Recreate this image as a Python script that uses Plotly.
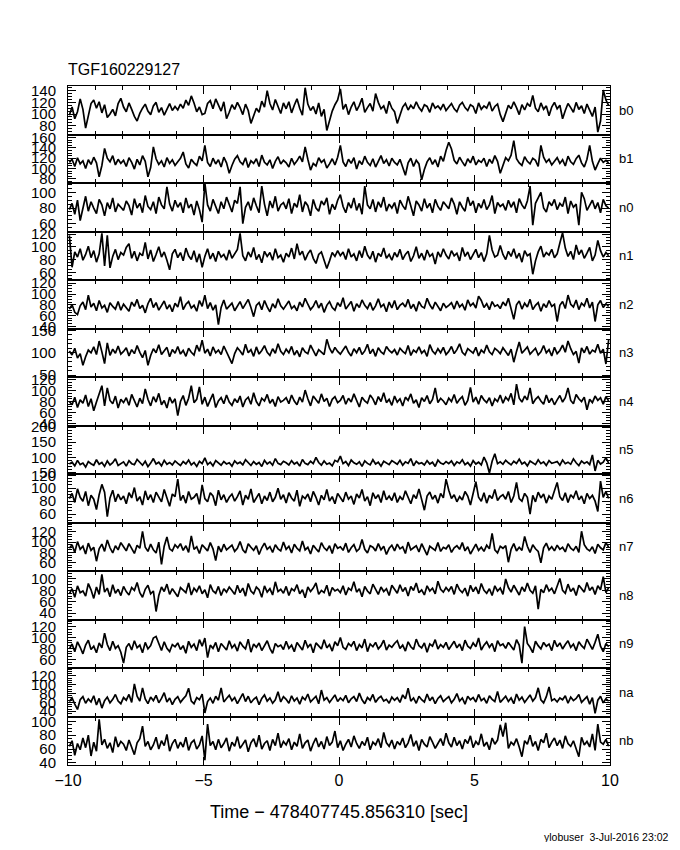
import numpy as np
import plotly.graph_objects as go

TITLE = "TGF160229127"
X_TITLE = "Time \u2212 478407745.856310 [sec]"
FOOTER = "ylobuser  3-Jul-2016 23:02"
DETECTORS = ["b0", "b1", "n0", "n1", "n2", "n3", "n4", "n5", "n6", "n7", "n8", "n9", "na", "nb"]
T_START, T_STOP = -10.0, 10.0
X_TICKS = [-10, -5, 0, 5, 10]

# counts per 0.1 s bin (10 rows x 20 bins = 2 s per row)
B0 = [98, 112, 92, 104, 126, 108, 76, 96, 118, 124, 110, 121, 102, 116, 94, 100, 108, 97, 118, 127,
      112, 104, 119, 108, 96, 88, 101, 110, 117, 105, 99, 114, 120, 103, 111, 98, 109, 118, 106, 113,
      107, 117, 110, 124, 115, 131, 119, 104, 112, 99, 101, 118, 123, 109, 126, 114, 105, 121, 92, 103,
      116, 108, 120, 111, 99, 117, 106, 84, 96, 110, 103, 122, 112, 140, 118, 107, 125, 113, 101, 119,
      109, 121, 102, 115, 126, 110, 98, 145, 117, 106, 113, 100, 119, 96, 108, 72, 91, 105, 116, 124,
      143, 108, 117, 99, 112, 121, 106, 115, 127, 103, 111, 118, 105, 135, 120, 109, 114, 101, 122, 110,
      104, 84, 98, 112, 118, 107, 115, 109, 121, 111, 105, 116, 113, 103, 119, 110, 114, 108, 117, 106,
      112, 118, 109, 104, 115, 120, 111, 106, 116, 113, 101, 119, 108, 114, 110, 121, 105, 113, 117, 99,
      87, 102, 115, 109, 121, 111, 99, 116, 107, 118, 113, 132, 110, 104, 119, 108, 114, 97, 112, 120,
      109, 115, 92, 106, 118, 111, 103, 120, 108, 114, 101, 117, 107, 96, 112, 69, 88, 141, 124, 115]
B1 = [112, 118, 104, 121, 109, 115, 100, 117, 108, 122, 111, 84, 106, 139, 120, 113, 125, 107, 118, 110,
      116, 104, 121, 112, 99, 118, 107, 125, 114, 84, 102, 142, 119, 108, 115, 103, 121, 110, 117, 106,
      113, 120, 132, 109, 101, 118, 111, 106, 124, 115, 145, 112, 104, 120, 109, 117, 103, 122, 111, 91,
      106, 118, 125, 113, 108, 121, 102, 115, 110, 119, 104, 126, 112, 107, 117, 100, 114, 123, 109, 116,
      111, 103, 120, 108, 115, 124, 113, 142, 118, 97, 110, 105, 121, 112, 117, 101, 109, 119, 107, 122,
      145, 113, 104, 118, 110, 121, 99, 115, 108, 124, 112, 106, 119, 103, 114, 125, 110, 117, 105, 120,
      112, 107, 118, 101, 87, 111, 120, 104, 116, 109, 78, 98, 113, 121, 108, 117, 103, 124, 114, 135,
      151, 138, 116, 109, 122, 113, 105, 119, 111, 124, 107, 116, 112, 120, 104, 118, 110, 125, 114, 91,
      108, 121, 115, 126, 154, 119, 111, 106, 123, 114, 109, 120, 116, 104, 145, 122, 112, 118, 107, 115,
      121, 110, 117, 105, 124, 113, 108, 119, 126, 111, 103, 118, 145, 114, 97, 109, 120, 112, 116, 111]
N0 = [78, 86, 72, 90, 64, 82, 95, 76, 88, 80, 73, 91, 84, 70, 87, 79, 93, 75, 85, 81,
      77, 89, 83, 71, 92, 80, 86, 74, 96, 82, 78, 88, 73, 94, 84, 79, 107, 85, 76, 90,
      81, 87, 74, 93, 80, 85, 71, 89, 78, 62, 112, 84, 76, 91, 82, 73, 88, 79, 94, 83,
      75, 90, 86, 107, 60, 81, 88, 77, 93, 83, 74, 108, 85, 70, 89, 80, 95, 76, 84, 87,
      79, 92, 73, 86, 81, 97, 75, 88, 83, 70, 91, 80, 76, 89, 84, 93, 72, 85, 78, 90,
      97, 82, 74, 87, 80, 93, 77, 86, 72, 108, 84, 79, 91, 75, 88, 81, 94, 76, 85, 80,
      87, 73, 90, 83, 78, 95, 81, 70, 89, 84, 76, 92, 80, 86, 74, 91, 82, 77, 88, 83,
      79, 93, 85, 72, 88, 81, 76, 94, 83, 89, 74, 86, 80, 91, 78, 84, 96, 73, 87, 82,
      85, 77, 90, 81, 88, 74, 92, 84, 79, 89, 108, 58, 86, 93, 100, 80, 75, 88, 83, 91,
      78, 86, 82, 94, 73, 89, 81, 85, 58, 100, 92, 77, 84, 90, 79, 87, 74, 91, 83, 80]
N1 = [118, 68, 92, 84, 97, 79, 88, 101, 83, 94, 76, 89, 121, 70, 118, 67, 85, 96, 80, 91,
      87, 99, 105, 82, 93, 78, 90, 86, 107, 81, 95, 77, 88, 100, 84, 92, 79, 64, 89, 96,
      83, 91, 78, 98, 86, 80, 94, 76, 89, 68, 85, 97, 81, 90, 77, 93, 84, 88, 79, 95,
      82, 89, 96, 121, 86, 78, 92, 84, 99, 80, 88, 75, 93, 85, 91, 79, 97, 83, 87, 76,
      90, 84, 98, 81, 105, 87, 93, 79, 89, 95, 82, 74, 88, 92, 80, 66, 78, 91, 85, 94,
      86, 92, 80, 97, 84, 89, 78, 94, 83, 101, 87, 81, 93, 76, 90, 85, 98, 82, 88, 79,
      91, 84, 96, 80, 88, 93, 77, 86, 100, 82, 90, 79, 95, 85, 89, 73, 92, 84, 97, 87,
      81, 94, 86, 90, 78, 99, 85, 92, 80, 88, 96, 83, 91, 77, 89, 118, 95, 84, 87, 102,
      88, 80, 93, 85, 97, 82, 90, 76, 94, 86, 89, 57, 78, 92, 101, 84, 91, 87, 96, 83,
      89, 106, 122, 98, 85, 93, 80, 103, 88, 95, 82, 90, 99, 78, 87, 110, 94, 84, 91, 86]
N2 = [72, 80, 66, 62, 78, 85, 71, 98, 76, 83, 69, 88, 74, 79, 66, 84, 77, 72, 86, 70,
      81, 74, 68, 85, 77, 90, 73, 79, 65, 82, 92, 75, 84, 70, 78, 87, 72, 80, 67, 83,
      76, 95, 71, 81, 86, 74, 79, 68, 88, 77, 98, 73, 84, 70, 80, 43, 75, 89, 72, 78,
      83, 69, 77, 86, 73, 81, 90, 75, 58, 79, 84, 71, 88, 76, 67, 82, 74, 91, 78, 72,
      80, 87, 73, 78, 69, 85, 76, 92, 81, 71, 77, 88, 74, 83, 66, 79, 86, 75, 70, 84,
      77, 93, 72, 80, 86, 68, 82, 75, 89, 79, 73, 84, 70, 78, 91, 76, 81, 67, 85, 74,
      88, 71, 79, 83, 76, 90, 73, 81, 68, 86, 77, 74, 92, 80, 72, 85, 78, 69, 83, 75,
      79, 84, 72, 87, 76, 81, 70, 89, 78, 83, 74, 96, 88, 75, 82, 71, 86, 77, 80, 73,
      85, 78, 92, 74, 53, 80, 87, 72, 83, 76, 90, 71, 79, 84, 68, 82, 75, 88, 77, 81,
      49, 79, 86, 73, 98, 81, 76, 89, 71, 83, 78, 92, 74, 85, 49, 80, 88, 75, 82, 77]
N3 = [104, 95, 110, 88, 98, 72, 91, 106, 100, 113, 96, 126, 102, 76, 122, 94, 108, 99, 115, 97,
      103, 111, 93, 107, 98, 116, 101, 89, 105, 72, 94, 109, 100, 118, 96, 104, 112, 91, 107, 99,
      114, 97, 105, 92, 110, 101, 95, 117, 103, 128, 99, 108, 93, 113, 100, 106, 96, 115, 102, 90,
      76, 98, 111, 104, 95, 119, 100, 107, 92, 113, 97, 105, 116, 101, 94, 109, 99, 120, 103, 96,
      108, 100, 114, 95, 105, 91, 111, 102, 98, 117, 104, 93, 107, 101, 96, 130, 110, 99, 112, 103,
      97, 106, 115, 101, 93, 109, 100, 112, 96, 104, 119, 98, 108, 92, 111, 102, 97, 114, 105, 100,
      107, 95, 110, 103, 98, 116, 94, 106, 101, 113, 99, 105, 92, 118, 104, 97, 109, 100, 112, 96,
      103, 114, 98, 107, 120, 101, 95, 109, 104, 99, 112, 93, 106, 100, 117, 102, 96, 110, 105, 98,
      111, 101, 94, 108, 79, 103, 124, 99, 106, 113, 97, 104, 110, 95, 102, 116, 100, 107, 93, 112,
      98, 105, 117, 101, 126, 109, 96, 103, 77, 111, 100, 114, 97, 106, 102, 119, 99, 108, 75, 129]
N4 = [80, 74, 88, 69, 83, 77, 92, 71, 85, 63, 79, 95, 109, 72, 105, 82, 76, 90, 68, 84,
      78, 87, 73, 93, 81, 70, 86, 76, 103, 84, 72, 89, 79, 95, 74, 82, 68, 88, 77, 85,
      54, 80, 91, 73, 86, 109, 78, 84, 107, 75, 88, 71, 83, 94, 69, 81, 87, 76, 92, 79,
      73, 85, 78, 90, 70, 83, 88, 75, 96, 80, 72, 86, 81, 93, 77, 84, 71, 89, 79, 82,
      87, 76, 92, 81, 74, 88, 79, 101, 85, 72, 90, 83, 77, 94, 80, 86, 71, 84, 89, 78,
      82, 91, 75, 86, 79, 94, 83, 70, 88, 81, 77, 92, 85, 74, 89, 80, 96, 78, 84, 73,
      90, 79, 85, 72, 88, 82, 94, 77, 83, 69, 87, 80, 91, 76, 84, 105, 78, 86, 81, 74,
      86, 80, 93, 77, 84, 89, 73, 82, 106, 79, 88, 75, 91, 83, 78, 87, 72, 85, 80, 92,
      77, 88, 82, 95, 74, 112, 86, 79, 90, 83, 105, 76, 84, 89, 81, 75, 92, 78, 86, 74,
      83, 91, 79, 87, 105, 82, 76, 93, 85, 80, 88, 65, 84, 78, 90, 82, 87, 75, 89, 81]
N5 = [78, 84, 72, 90, 76, 81, 68, 86, 79, 74, 92, 77, 83, 70, 88, 75, 82, 95, 73, 80,
      85, 71, 89, 79, 76, 93, 82, 74, 87, 69, 81, 96, 78, 84, 72, 90, 77, 83, 75, 88,
      80, 73, 86, 78, 91, 75, 83, 70, 87, 79, 98, 76, 84, 72, 89, 81, 74, 86, 78, 82,
      71, 88, 79, 84, 75, 92, 81, 73, 86, 77, 83, 70, 90, 78, 85, 74, 96, 80, 76, 87,
      82, 75, 89, 78, 84, 71, 93, 80, 76, 87, 79, 100, 83, 74, 88, 77, 81, 72, 90, 85,
      104, 79, 86, 73, 91, 82, 77, 85, 70, 88, 80, 75, 92, 78, 84, 71, 87, 81, 76, 89,
      83, 77, 90, 74, 85, 80, 96, 72, 87, 79, 82, 75, 89, 78, 84, 70, 91, 81, 77, 86,
      79, 88, 73, 85, 80, 92, 76, 83, 71, 89, 78, 84, 75, 101, 82, 48, 87, 112, 79, 85,
      77, 90, 82, 75, 87, 80, 94, 78, 84, 72, 88, 81, 76, 92, 79, 85, 73, 89, 80, 83,
      86, 74, 91, 79, 84, 77, 95, 82, 73, 88, 80, 85, 76, 108, 55, 90, 78, 84, 99, 81]
N6 = [84, 92, 78, 99, 86, 80, 95, 73, 89, 83, 67, 90, 106, 94, 56, 85, 97, 79, 91, 82,
      88, 76, 93, 85, 101, 80, 87, 74, 96, 82, 90, 78, 94, 86, 79, 98, 84, 72, 91, 87,
      114, 81, 89, 77, 95, 83, 86, 92, 75, 105, 84, 79, 93, 88, 73, 97, 82, 90, 78, 86,
      91, 80, 87, 96, 74, 89, 83, 99, 78, 85, 92, 76, 88, 81, 94, 79, 86, 100, 83, 90,
      77, 93, 85, 80, 97, 72, 88, 84, 91, 79, 95, 86, 74, 89, 82, 98, 80, 87, 76, 92,
      86, 79, 94, 83, 88, 75, 91, 85, 98, 80, 87, 73, 93, 84, 90, 78, 96, 82, 88, 81,
      93, 78, 87, 82, 96, 85, 76, 90, 84, 99, 80, 66, 88, 94, 83, 89, 77, 92, 85, 114,
      97, 84, 90, 79, 87, 82, 95, 88, 74, 91, 110, 86, 80, 93, 77, 89, 84, 98, 81, 87,
      90, 83, 95, 78, 88, 109, 84, 80, 92, 86, 60, 89, 79, 94, 85, 91, 77, 88, 83, 96,
      109, 87, 81, 93, 78, 90, 85, 96, 82, 88, 76, 92, 84, 89, 80, 64, 111, 86, 95, 84]
N7 = [88, 95, 80, 101, 86, 92, 77, 98, 84, 90, 63, 87, 96, 82, 104, 89, 79, 93, 85, 99,
      91, 83, 97, 86, 78, 94, 88, 121, 90, 82, 96, 85, 79, 100, 57, 92, 110, 87, 83, 95,
      89, 97, 84, 93, 80, 112, 86, 91, 78, 95, 88, 83, 99, 87, 64, 92, 81, 96, 85, 90,
      94, 82, 88, 101, 85, 79, 97, 90, 84, 93, 76, 89, 98, 86, 91, 80, 95, 87, 83, 100,
      86, 92, 79, 96, 88, 83, 102, 85, 90, 77, 94, 87, 81, 99, 89, 84, 93, 78, 97, 88,
      91, 84, 98, 80, 89, 95, 82, 87, 105, 86, 79, 93, 90, 83, 97, 85, 92, 76, 88, 94,
      83, 96, 87, 91, 78, 100, 85, 89, 93, 81, 97, 86, 75, 92, 88, 84, 99, 82, 90, 87,
      95, 80, 89, 93, 86, 99, 83, 91, 77, 88, 96, 84, 90, 82, 94, 87, 117, 85, 79, 92,
      88, 93, 61, 86, 97, 83, 90, 84, 111, 92, 80, 95, 87, 82, 60, 89, 98, 85, 91, 83,
      94, 86, 90, 81, 97, 88, 84, 92, 80, 121, 95, 87, 83, 91, 78, 96, 89, 85, 99, 90]
N8 = [74, 83, 68, 88, 76, 79, 70, 92, 81, 66, 86, 73, 108, 77, 84, 69, 90, 75, 82, 71,
      87, 78, 72, 85, 80, 94, 76, 68, 82, 89, 74, 79, 43, 71, 86, 78, 91, 73, 83, 77,
      69, 85, 80, 76, 93, 72, 84, 78, 88, 74, 81, 67, 90, 79, 75, 87, 71, 83, 77, 86,
      80, 73, 89, 76, 84, 70, 92, 79, 74, 86, 81, 68, 88, 77, 83, 72, 95, 78, 82, 75,
      87, 71, 83, 79, 90, 74, 81, 67, 86, 78, 84, 93, 73, 80, 76, 89, 70, 85, 79, 82,
      76, 88, 72, 84, 80, 95, 77, 83, 69, 87, 79, 74, 91, 81, 73, 86, 78, 83, 71, 89,
      82, 75, 90, 78, 85, 70, 87, 80, 93, 76, 81, 72, 88, 79, 84, 74, 96, 82, 77, 85,
      79, 87, 73, 91, 81, 76, 84, 70, 89, 78, 86, 74, 92, 80, 75, 83, 71, 88, 79, 84,
      73, 100, 85, 77, 89, 81, 72, 86, 78, 93, 80, 75, 88, 47, 82, 76, 90, 79, 84, 74,
      87, 101, 80, 75, 91, 78, 84, 71, 89, 82, 77, 94, 80, 86, 73, 88, 81, 104, 76, 85]
N9 = [79, 88, 74, 92, 82, 70, 86, 95, 78, 84, 72, 90, 81, 108, 87, 76, 93, 80, 85, 73,
      53, 82, 89, 77, 94, 81, 86, 72, 91, 79, 85, 99, 102, 88, 76, 92, 80, 74, 87, 83,
      90, 78, 85, 71, 93, 82, 88, 76, 96, 84, 99, 63, 86, 80, 91, 74, 89, 83, 77, 94,
      81, 87, 75, 92, 84, 79, 97, 73, 88, 82, 90, 76, 85, 94, 80, 71, 89, 83, 86, 78,
      93, 80, 86, 74, 91, 83, 77, 95, 82, 88, 72, 90, 84, 79, 96, 81, 87, 75, 92, 85,
      100, 82, 78, 89, 84, 93, 76, 87, 81, 97, 74, 88, 83, 91, 79, 85, 95, 77, 86, 82,
      89, 94, 80, 86, 75, 92, 83, 78, 97, 85, 81, 90, 73, 88, 84, 96, 79, 87, 82, 91,
      78, 85, 93, 81, 88, 76, 95, 84, 80, 90, 83, 99, 77, 86, 92, 82, 89, 74, 94, 85,
      88, 80, 91, 84, 77, 96, 86, 53, 120, 89, 82, 72, 93, 85, 79, 91, 84, 88, 76, 95,
      83, 90, 79, 87, 94, 82, 88, 76, 92, 85, 80, 97, 86, 78, 91, 106, 84, 74, 89, 83]
NA = [62, 70, 56, 44, 66, 73, 58, 68, 61, 75, 54, 69, 47, 64, 72, 59, 67, 78, 63, 57,
      71, 65, 78, 60, 102, 74, 63, 93, 68, 57, 72, 64, 76, 59, 69, 82, 61, 70, 55, 67,
      73, 60, 68, 75, 92, 63, 57, 71, 66, 79, 36, 62, 70, 58, 74, 65, 93, 61, 69, 76,
      64, 71, 57, 68, 80, 62, 74, 59, 67, 72, 55, 69, 77, 63, 70, 58, 66, 84, 61, 73,
      67, 58, 75, 63, 70, 56, 72, 66, 79, 61, 68, 74, 57, 88, 65, 71, 60, 69, 77, 62,
      70, 64, 76, 59, 68, 73, 62, 81, 66, 57, 71, 65, 78, 60, 69, 74, 63, 67, 58, 72,
      65, 71, 60, 77, 68, 92, 63, 70, 58, 74, 66, 61, 79, 64, 72, 57, 69, 75, 62, 68,
      73, 59, 67, 80, 63, 70, 56, 74, 66, 71, 61, 78, 64, 69, 58, 75, 67, 62, 85, 60,
      68, 74, 62, 70, 57, 79, 65, 72, 60, 69, 77, 63, 71, 93, 66, 59, 73, 95, 64, 68,
      61, 70, 66, 75, 58, 72, 64, 69, 78, 60, 67, 73, 56, 71, 35, 65, 74, 59, 68, 63]
NB = [64, 72, 51, 68, 59, 76, 62, 80, 50, 70, 57, 103, 66, 74, 61, 69, 55, 78, 63, 71,
      67, 58, 73, 62, 52, 69, 75, 93, 64, 71, 59, 66, 77, 60, 72, 65, 81, 57, 68, 74,
      61, 70, 63, 77, 58, 69, 73, 60, 66, 79, 44, 96, 65, 71, 59, 74, 62, 68, 76, 57,
      70, 64, 78, 61, 67, 73, 56, 69, 75, 63, 80, 60, 68, 72, 58, 74, 65, 83, 62, 71,
      66, 75, 59, 70, 64, 82, 61, 69, 73, 57, 68, 76, 63, 71, 60, 78, 65, 70, 86, 62,
      72, 58, 67, 74, 63, 79, 68, 61, 71, 65, 77, 59, 70, 66, 75, 62, 84, 69, 64, 73,
      60, 71, 66, 76, 62, 69, 81, 64, 72, 58, 74, 67, 63, 78, 70, 61, 68, 75, 65, 83,
      69, 63, 77, 65, 72, 60, 74, 68, 79, 62, 71, 66, 82, 64, 70, 59, 76, 67, 73, 95,
      78, 98, 61, 70, 66, 75, 63, 49, 72, 67, 80, 64, 71, 58, 74, 69, 83, 62, 70, 76,
      65, 73, 61, 79, 68, 64, 72, 60, 49, 77, 66, 71, 63, 82, 58, 96, 70, 67, 74, 64]

SERIES = [B0, B1, N0, N1, N2, N3, N4, N5, N6, N7, N8, N9, NA, NB]

# axis settings per panel: (ymin, ymax), major tick step
Y_RANGES = [(65, 148), (72, 166), (50, 112), (48, 124), (36, 126), (46, 154), (36, 125),
            (45, 205), (47, 122), (44, 138), (29, 114), (44, 133), (28, 138), (37, 107)]
Y_DTICK = [20, 20, 20, 20, 20, 50, 20, 50, 20, 20, 20, 20, 20, 20]

# ---- geometry (page pixels; the page body adds an 8 px margin on every side) ----
PAGE_OFF = 8
W, H = 680 - 2 * PAGE_OFF, 850 - 2 * PAGE_OFF
LEFT, RIGHT = 68, 610
TOP, PANEL_H = 86, 48.5
FONT = "Liberation Sans, Arial, sans-serif"


def fx(p):
    return (p - PAGE_OFF) / W


def fy(p):
    return 1 - (p - PAGE_OFF) / H


fig = go.Figure()
layout = dict(
    width=W, height=H, autosize=False,
    margin=dict(l=0, r=0, t=0, b=0, pad=0, autoexpand=False),
    paper_bgcolor="white", plot_bgcolor="white",
    showlegend=False,
    font=dict(family=FONT, color="black"),
    title=dict(text=TITLE, x=fx(LEFT), xanchor="left", y=fy(69), yanchor="middle",
               automargin=False,
               font=dict(size=16, family=FONT, color="black")),
)

annotations = []
n = len(SERIES)
for i, (name, vals) in enumerate(zip(DETECTORS, SERIES)):
    k = "" if i == 0 else str(i + 1)
    nb = len(vals)
    centers = T_START + (np.arange(nb) + 0.5) * (T_STOP - T_START) / nb
    fig.add_trace(go.Scatter(x=centers, y=vals, mode="lines", line=dict(shape="linear", color="black", width=1.7),
                             xaxis="x" + k, yaxis="y" + k, hoverinfo="skip", name=name, cliponaxis=True))
    top = TOP + PANEL_H * i
    bot = top + PANEL_H
    last = (i == n - 1)
    layout["xaxis" + k] = dict(
        domain=[fx(LEFT), fx(RIGHT)], anchor="y" + k, range=[T_START, T_STOP],
        automargin=False,
        tickmode="array", tickvals=X_TICKS, ticktext=["\u221210", "\u22125", "0", "5", "10"],
        ticks="inside", ticklen=8, tickcolor="black", tickwidth=1,
        minor=dict(dtick=1, ticks="inside", ticklen=4, tickcolor="black", tickwidth=1),
        showline=True, linecolor="black", linewidth=1, mirror="ticks",
        showgrid=False, zeroline=False,
        showticklabels=last, tickfont=dict(size=16, family=FONT, color="black"),
        ticklabelstandoff=1,
    )
    if last:
        layout["xaxis" + k]["title"] = dict(text=X_TITLE, font=dict(size=18, family=FONT, color="black"),
                                           standoff=17)
    if i > 0:
        layout["xaxis" + k]["matches"] = "x"
    d = Y_DTICK[i]
    layout["yaxis" + k] = dict(
        domain=[fy(bot), fy(top)], anchor="x" + k, range=list(Y_RANGES[i]),
        automargin=False,
        tick0=0, dtick=d,
        ticks="inside", ticklen=8, tickcolor="black", tickwidth=1,
        minor=dict(dtick=d / (5 if d == 50 else 4), ticks="inside", ticklen=4, tickcolor="black", tickwidth=1),
        showline=True, linecolor="black", linewidth=1, mirror="ticks",
        showgrid=False, zeroline=False,
        tickfont=dict(size=15, family=FONT, color="black"),
        ticklabelstandoff=8,
    )
    annotations.append(dict(text=name, xref="paper", yref="paper", x=fx(617), y=fy((top + bot) / 2),
                            xanchor="left", yanchor="middle", showarrow=False,
                            font=dict(size=13, family=FONT, color="black")))

annotations.append(dict(text=FOOTER, xref="paper", yref="paper", x=fx(670), y=fy(837),
                        xanchor="right", yanchor="middle", showarrow=False,
                        font=dict(size=10.5, family=FONT, color="black")))
layout["annotations"] = annotations
fig.update_layout(**layout)
fig.write_html("out.html")
